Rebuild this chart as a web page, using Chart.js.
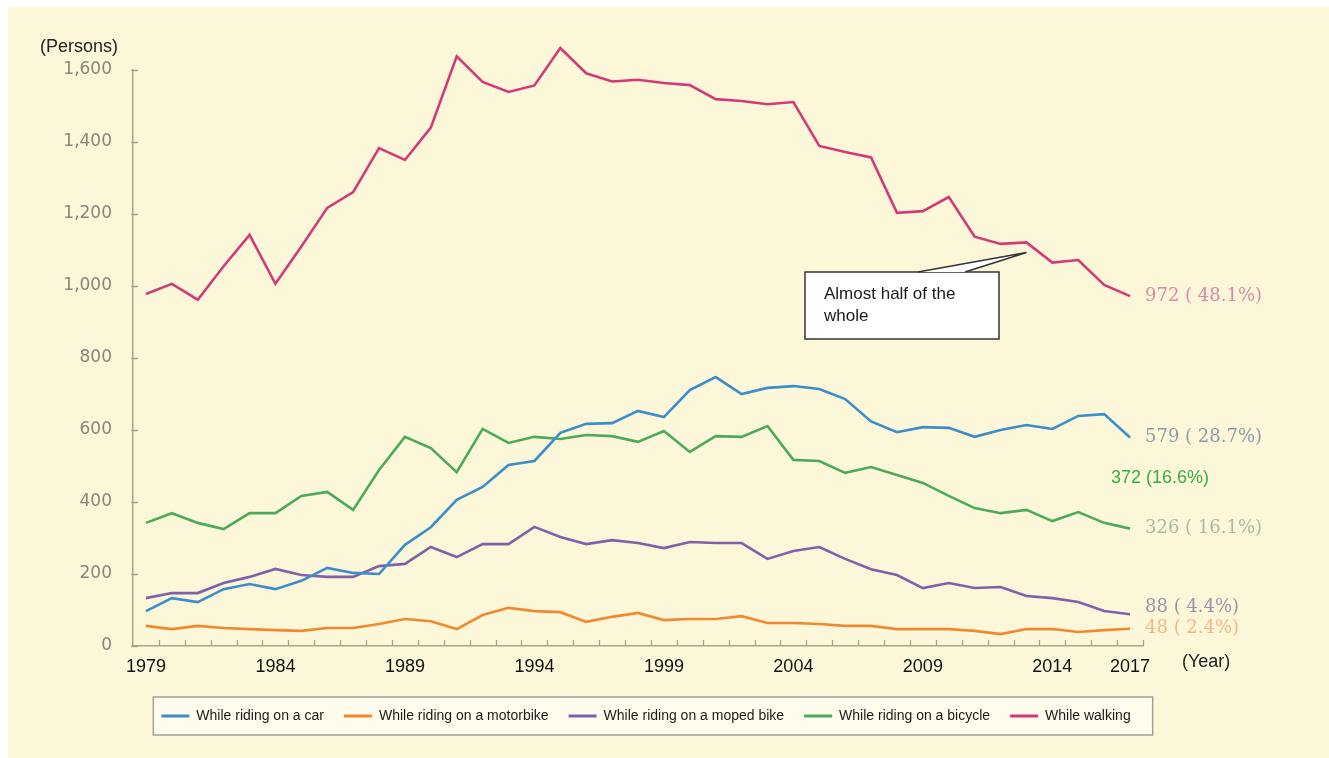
<!DOCTYPE html>
<html>
<head>
<meta charset="utf-8">
<script src="https://cdn.jsdelivr.net/npm/chart.js@4.4.1/dist/chart.umd.min.js"></script>
<style>
  html, body { margin: 0; padding: 0; background: #ffffff; }
  #chart { display: block; }
</style>
</head>
<body>
<canvas id="chart" width="1329" height="758"></canvas>
<script>
// Years on the x axis
const years = [
  "1979", "1980", "1981", "1982", "1983", "1984", "1985", "1986", "1987", "1988",
  "1989", "1990", "1991", "1992", "1993", "1994", "1995", "1996", "1997", "1998",
  "1999", "2000", "2001", "2002", "2003", "2004", "2005", "2006", "2007", "2008",
  "2009", "2010", "2011", "2012", "2013", "2014", "2015", "2016", "2017"
];
const tickYears = ["1979", "1984", "1989", "1994", "1999", "2004", "2009", "2014", "2017"];

// Persons killed, by situation
const carValues = [97, 133, 122, 158, 172, 158, 181, 217, 203, 200, 281, 330, 406, 442, 503, 514, 592, 617, 619, 653, 636, 711, 747, 700, 717, 722, 714, 686, 624, 594, 608, 606, 581, 600, 614, 603, 639, 644, 579];
const motorbikeValues = [56, 47, 56, 50, 47, 44, 42, 50, 50, 61, 75, 69, 47, 86, 106, 97, 94, 67, 81, 92, 72, 75, 75, 83, 64, 64, 61, 56, 56, 47, 47, 47, 42, 33, 47, 47, 39, 44, 48];
const mopedValues = [133, 147, 147, 175, 192, 214, 197, 192, 192, 222, 228, 275, 247, 283, 283, 331, 303, 283, 294, 286, 272, 289, 286, 286, 242, 264, 275, 242, 213, 197, 161, 175, 161, 164, 139, 133, 122, 97, 88];
const bicycleValues = [342, 369, 342, 325, 369, 369, 417, 428, 378, 489, 581, 550, 483, 603, 564, 581, 575, 586, 583, 567, 597, 539, 583, 581, 611, 517, 514, 481, 497, 475, 453, 417, 383, 369, 378, 347, 372, 342, 326];
const walkingValues = [978, 1006, 962, 1055, 1142, 1006, 1110, 1217, 1261, 1383, 1350, 1440, 1638, 1567, 1539, 1557, 1661, 1591, 1568, 1573, 1564, 1558, 1519, 1514, 1505, 1511, 1389, 1372, 1357, 1203, 1208, 1247, 1137, 1117, 1121, 1065, 1072, 1003, 972];

const seriesNames = ["While riding on a car", "While riding on a motorbike", "While riding on a moped bike", "While riding on a bicycle", "While walking"];
const seriesValues = [carValues, motorbikeValues, mopedValues, bicycleValues, walkingValues];
const seriesColors = ["#3a8ec9", "#f0892f", "#8061a9", "#4bab5b", "#d23b77"];

// labels at the end of each line (2017)
const endLabels = ["579 ( 28.7%)", "48 ( 2.4%)", "88 ( 4.4%)", "326 ( 16.1%)", "972 ( 48.1%)"];
const endLabelColors = ["#8d9cab", "#f2b789", "#9a92ab", "#a9bba3", "#d98aa9"];
const endLabelShift = [0, 0, -7, 0, 0];
const bicycleNote = "372 (16.6%)";

const calloutLines = ["Almost half of the", "whole"];

// Background, legend frame
const backdrop = {
  id: "backdrop",
  beforeDraw(chart) {
    const ctx = chart.ctx;
    ctx.save();
    ctx.fillStyle = "#ffffff";
    ctx.fillRect(0, 0, chart.width, chart.height);
    ctx.fillStyle = "#fdf7d9";
    ctx.fillRect(8, 7, chart.width - 8, chart.height - 7);

    const boxes = chart.legend.legendHitBoxes;
    const left = Math.min(...boxes.map(b => b.left)) - 8;
    const right = Math.max(...boxes.map(b => b.left + b.width)) + 22;
    ctx.fillStyle = "#fffcee";
    ctx.fillRect(left, 697, right - left, 38);
    ctx.strokeStyle = "#a3a39b";
    ctx.lineWidth = 1.5;
    ctx.strokeRect(left, 697, right - left, 38);
    ctx.restore();
  },
  afterLayout(chart) {
    // centre the legend row under the plot like the original
    const lg = chart.legend;
    lg.left = 0;
    lg.right = 1292;
    lg.width = 1292;
    const h = lg.bottom - lg.top;
    lg.top = 689;
    lg.bottom = 689 + h;
  }
};

// Small inward tick marks on both axes
const axisTicks = {
  id: "axisTicks",
  beforeDatasetsDraw(chart) {
    const { ctx, chartArea, scales: { x, y } } = chart;
    const half = (x.getPixelForValue(1) - x.getPixelForValue(0)) / 2;
    ctx.save();
    ctx.strokeStyle = "#a8a48b";
    ctx.lineWidth = 1.3;
    ctx.beginPath();
    years.forEach((yr, i) => {
      const px = Math.round(x.getPixelForValue(i) + half) + 0.5;
      ctx.moveTo(px, chartArea.bottom);
      ctx.lineTo(px, chartArea.bottom - 6);
    });
    y.ticks.forEach(t => {
      const py = Math.round(y.getPixelForValue(t.value)) + 0.5;
      ctx.moveTo(chartArea.left - 2, py);
      ctx.lineTo(chartArea.left + 5, py);
    });
    ctx.stroke();
    ctx.restore();
  }
};

// Axis titles, end labels, callout
const textBits = {
  id: "textBits",
  afterDraw(chart) {
    const { ctx, chartArea, scales: { x, y } } = chart;
    ctx.save();
    ctx.fillStyle = "#222222";
    ctx.font = "18px 'Liberation Sans', Arial, sans-serif";
    ctx.textBaseline = "middle";
    ctx.textAlign = "left";
    ctx.fillText("(Persons)", 40, 47);
    ctx.fillText("(Year)", 1182, 662);

    // end-of-line values
    ctx.font = "18px 'DejaVu Serif', serif";
    seriesValues.forEach((vals, i) => {
      const last = vals.length - 1;
      const py = y.getPixelForValue(vals[last]) + endLabelShift[i];
      ctx.fillStyle = endLabelColors[i];
      ctx.fillText(endLabels[i], chartArea.right + 2, py);
    });

    ctx.font = "18px 'Liberation Sans', Arial, sans-serif";
    ctx.fillStyle = "#36ad49";
    ctx.fillText(bicycleNote, 1111, 478);

    // callout pointing at the walking line in 2013
    const idx = years.indexOf("2013");
    const tipX = x.getPixelForValue(idx);
    const tipY = y.getPixelForValue(walkingValues[idx]) + 10;
    const bx = 805, by = 272, bw = 194, bh = 67;
    ctx.fillStyle = "#ffffff";
    ctx.strokeStyle = "#333333";
    ctx.lineWidth = 1.5;
    ctx.fillRect(bx, by, bw, bh);
    ctx.strokeRect(bx, by, bw, bh);
    ctx.beginPath();
    ctx.moveTo(918, by);
    ctx.lineTo(tipX, tipY);
    ctx.lineTo(965, by);
    ctx.closePath();
    ctx.fill();
    ctx.beginPath();
    ctx.moveTo(918, by);
    ctx.lineTo(tipX, tipY);
    ctx.lineTo(965, by);
    ctx.stroke();
    ctx.fillStyle = "#1a1a1a";
    ctx.font = "17px 'Liberation Sans', Arial, sans-serif";
    ctx.fillText(calloutLines[0], 824, 294);
    ctx.fillText(calloutLines[1], 824, 316);
    ctx.restore();
  }
};

const datasets = seriesNames.map((name, i) => ({
  label: name,
  data: seriesValues[i],
  borderColor: seriesColors[i],
  backgroundColor: seriesColors[i],
  borderWidth: 2.6,
  pointRadius: 0,
  tension: 0,
  clip: false
}));

new Chart(document.getElementById("chart"), {
  type: "line",
  data: { labels: years, datasets: datasets },
  options: {
    responsive: false,
    animation: false,
    devicePixelRatio: 1,
    layout: { padding: { top: 70, left: 0, right: 186, bottom: 28 } },
    plugins: {
      tooltip: { enabled: false },
      legend: {
        position: "bottom",
        labels: {
          boxWidth: 28,
          boxHeight: 3,
          padding: 20,
          color: "#1a1a1a",
          font: { family: "'Liberation Sans', Arial, sans-serif", size: 14 },
          generateLabels(chart) {
            return Chart.defaults.plugins.legend.labels.generateLabels(chart).map(item => {
              item.lineWidth = 0;
              return item;
            });
          }
        }
      }
    },
    scales: {
      x: {
        offset: true,
        grid: { display: false },
        border: { display: true, color: "#aaa68e", width: 1.5 },
        ticks: {
          autoSkip: false,
          maxRotation: 0,
          padding: 2,
          color: "#111111",
          font: { family: "'Liberation Sans', Arial, sans-serif", size: 18 },
          callback(value) {
            const lbl = this.getLabelForValue(value);
            return tickYears.includes(lbl) ? lbl : "";
          }
        },
        afterFit(scale) { scale.height = 40; }
      },
      y: {
        min: 0,
        max: 1600,
        grid: { display: false },
        border: { display: true, color: "#aaa68e", width: 1.5 },
        ticks: {
          stepSize: 200,
          padding: 13,
          color: "#85857c",
          font: { family: "'DejaVu Sans', sans-serif", size: 17 },
          callback(value) { return value.toLocaleString("en-US"); }
        },
        afterFit(scale) { scale.width = 133; }
      }
    }
  },
  plugins: [backdrop, axisTicks, textBits]
});
</script>
</body>
</html>
